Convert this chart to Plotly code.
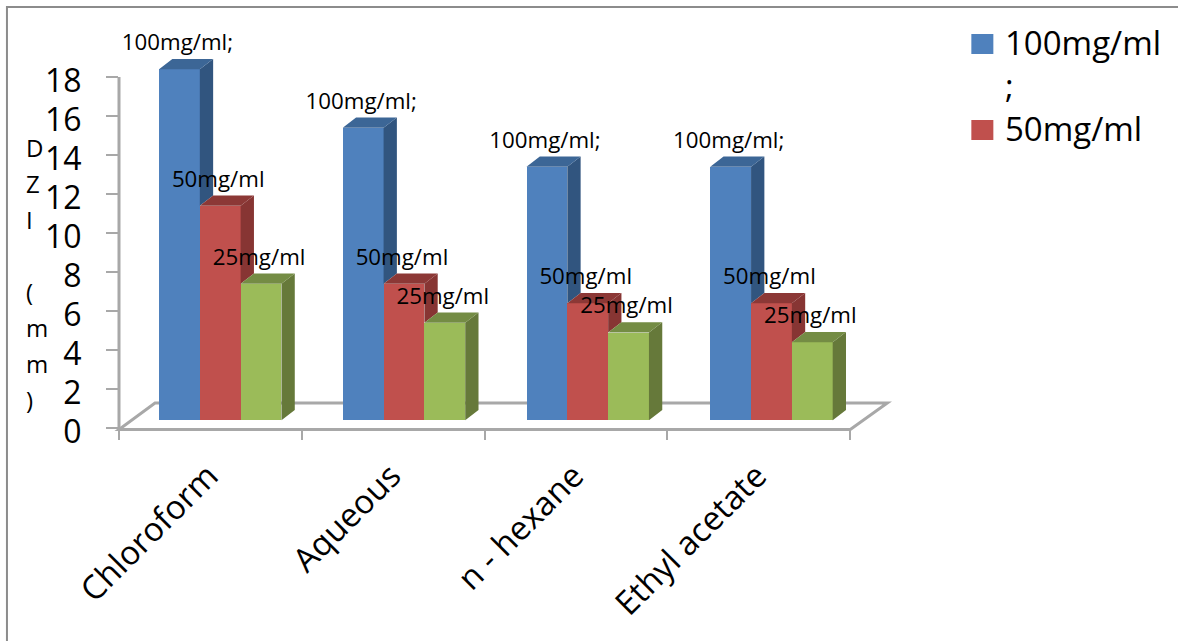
import plotly.graph_objects as go

categories = ["Chloroform", "Aqueous", "n - hexane", "Ethyl acetate"]
series_names = ["100mg/ml;", "50mg/ml", "25mg/ml"]
values_100 = [18, 15, 13, 13]
values_50 = [11, 7, 6, 6]
values_25 = [7, 5, 4.5, 4]
y_ticks = list(range(0, 20, 2))
axis_title_lines = ["D", "Z", "I", "", "(", "m", "m", ")"]
legend_lines = ["100mg/ml", ";", "50mg/ml"]

# colours: front, side, top
BLUE = ("#4F81BD", "#31557F", "#3C6696")
RED = ("#C0504D", "#873533", "#8C3836")
GREEN = ("#9BBB59", "#66793A", "#748C44")
GREY = "#A8A8A8"

# pixel scale of the chart
PX_X = 182.75     # px per category slot
PX_Y = 19.5       # px per y unit
LEFT, ZERO = 119, 428
X_MAX, Y_MAX = 4.25, 20

BAR_OFF = 40 / PX_X
BAR_STEP = 183.67 / PX_X
BAR_W = 40.8 / PX_X
DEPTH_X = 13.3 / PX_X
DEPTH_Y = 10.3 / PX_Y
LIFT = 7.7 / PX_Y

series = [values_100, values_50, values_25]
colours = [BLUE, RED, GREEN]
n_cat = len(categories)

fig = go.Figure()

def bar_left(i, j):
    return i * BAR_STEP + BAR_OFF + j * BAR_W

def polys(rects, colour):
    xs, ys = [], []
    for r in rects:
        xs += [p[0] for p in r] + [None]
        ys += [p[1] for p in r] + [None]
    fig.add_trace(go.Scatter(x=xs, y=ys, mode="lines", fill="toself", fillcolor=colour,
                             line=dict(width=0, color=colour), showlegend=False,
                             hoverinfo="skip", cliponaxis=False))

# front faces
for j, (vals, col) in enumerate(zip(series, colours)):
    fig.add_trace(go.Bar(
        x=[bar_left(i, j) + BAR_W / 2 for i in range(n_cat)],
        y=vals, base=LIFT, width=BAR_W, name=series_names[j],
        marker=dict(color=col[0], line=dict(width=0)), showlegend=False,
        hovertemplate="%{y}<extra>" + series_names[j] + "</extra>"))

# side and top faces
for j, (vals, col) in enumerate(zip(series, colours)):
    sides, tops = [], []
    for i, v in enumerate(vals):
        x0 = bar_left(i, j)
        x1 = x0 + BAR_W
        top = LIFT + v
        low = LIFT + series[j + 1][i] if j + 1 < len(series) else LIFT
        sides.append([(x1, low), (x1 + DEPTH_X, low + DEPTH_Y),
                      (x1 + DEPTH_X, top + DEPTH_Y), (x1, top), (x1, low)])
        tops.append([(x0, top), (x1, top), (x1 + DEPTH_X, top + DEPTH_Y),
                     (x0 + DEPTH_X, top + DEPTH_Y), (x0, top)])
    polys(sides, col[1])
    polys(tops, col[2])

# data labels
for j, vals in enumerate(series):
    fig.add_trace(go.Scatter(
        x=[bar_left(i, j) + BAR_W / 2 - 2 / PX_X for i in range(n_cat)],
        y=[v + LIFT + DEPTH_Y + 14.5 / PX_Y for v in vals],
        mode="text", text=[series_names[j]] * n_cat, textposition="middle center",
        textfont=dict(family="Open Sans", size=22.3, color="#000000"),
        showlegend=False, hoverinfo="skip", cliponaxis=False))

W, H = 1178, 641
plot_w = X_MAX * PX_X
plot_h = Y_MAX * PX_Y
ml, mt = LEFT, ZERO - plot_h
mr, mb = W - ml - plot_w, H - ZERO

def px(x):
    return (x - ml) / plot_w

def py(y):
    return (H - mb - y) / plot_h

line = dict(color=GREY, width=3)
F_L, F_R, F_BACK_L, F_BACK_R = 119, 850, 155, 887
F_FRONT, F_BACK, Y_TOP = 429.5, 403, 77
shapes = [
    # floor and wall lines, behind the bars
    dict(type="path", layer="below", xref="paper", yref="paper", line=line,
         path=(f"M {px(F_BACK_L)},{py(F_BACK)} L {px(F_BACK_R)},{py(F_BACK)} "
               f"L {px(F_R)},{py(F_FRONT)} L {px(F_L)},{py(F_FRONT)} Z")),
    dict(type="line", layer="below", xref="paper", yref="paper",
         x0=px(F_L), x1=px(F_L), y0=py(F_FRONT), y1=py(Y_TOP), line=line),
    # outer frame of the picture
    dict(type="path", xref="paper", yref="paper", line=dict(color="#8C8C8C", width=2),
         path=f"M {px(7)},{py(H + 5)} L {px(7)},{py(7)} L {px(W + 5)},{py(7)}"),
    # legend keys
    dict(type="rect", xref="paper", yref="paper", x0=px(971), x1=px(993), y0=py(34), y1=py(54),
         fillcolor=BLUE[0], line=dict(width=0)),
    dict(type="rect", xref="paper", yref="paper", x0=px(971), x1=px(993), y0=py(120), y1=py(140),
         fillcolor=RED[0], line=dict(width=0)),
]

axis_title = "<br>".join(f'<span style="font-size:24px">{t}</span>' if t else " " for t in axis_title_lines)

fig.update_layout(
    width=W, height=H, autosize=False, showlegend=False,
    margin=dict(l=ml, r=mr, t=mt, b=mb, pad=0, autoexpand=False),
    paper_bgcolor="white", plot_bgcolor="white",
    barmode="overlay", bargap=0,
    font=dict(family="Open Sans", color="#000000"),
    shapes=shapes,
    xaxis=dict(range=[0, X_MAX], showgrid=False, zeroline=False, showline=False,
               tickvals=[i + 0.5 for i in range(n_cat)], ticktext=categories,
               ticks="", tickangle=-45, tickfont=dict(size=33), ticklabelstandoff=21,
               ticklabelshift=-2,
               minor=dict(tickvals=list(range(n_cat + 1)), ticks="outside", ticklen=11,
                          tickwidth=2, tickcolor=GREY, showgrid=False)),
    yaxis=dict(range=[0, Y_MAX], showgrid=False, zeroline=False, showline=False,
               tickvals=y_ticks, ticks="outside", ticklen=12, tickwidth=2, tickcolor=GREY,
               tickfont=dict(size=32), ticklabelstandoff=18, ticklabelshift=4),
    annotations=[
        dict(text=axis_title, xref="paper", yref="paper", x=px(24), y=py(128.5),
             xanchor="left", yanchor="top", align="left", showarrow=False,
             font=dict(size=27.7)),
        dict(text="<br>".join(legend_lines), xref="paper", yref="paper", x=px(1002.5), y=py(18),
             xanchor="left", yanchor="top", align="left", showarrow=False,
             font=dict(size=33)),
    ],
)

fig.write_html("out.html", config=dict(displayModeBar=False),
               post_script="document.body.style.margin='0';document.documentElement.style.overflow='hidden';")
